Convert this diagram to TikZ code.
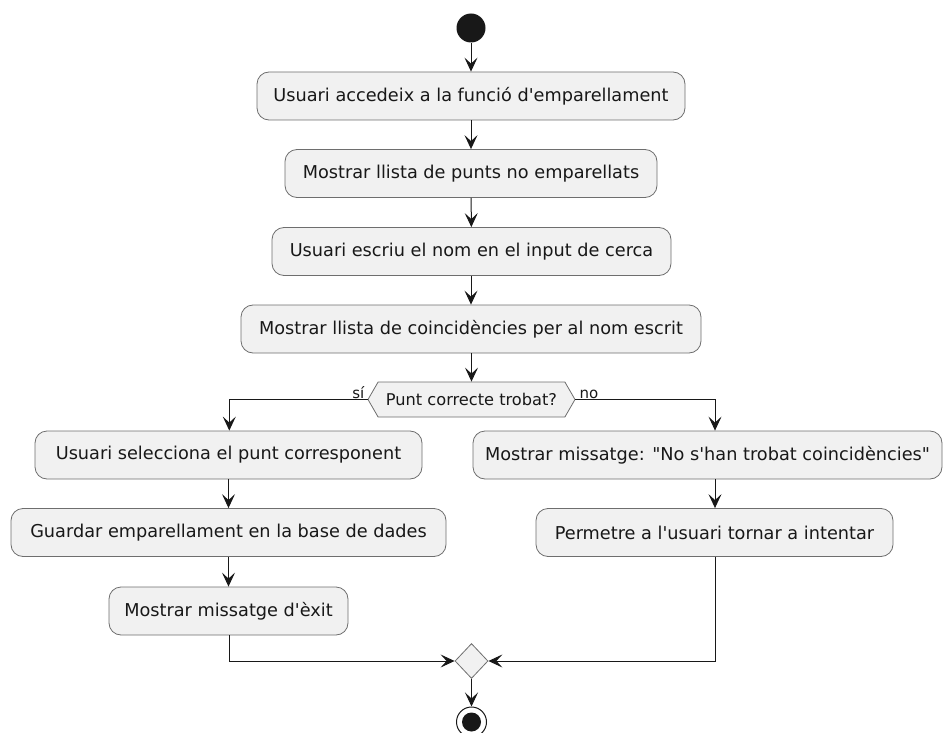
\documentclass[tikz,border=0pt]{standalone}
\usepackage{fontspec}
\setmainfont{DejaVu Sans}
\usetikzlibrary{arrows.meta,shapes.geometric,shapes.symbols}
\definecolor{boxfill}{HTML}{F1F1F1}
\definecolor{ink}{HTML}{181818}
\definecolor{edge}{HTML}{6E6E6E}
\newcommand{\sq}{\textquotesingle}
\newcommand{\dq}{\textquotedbl}
\tikzset{
  act/.style={draw=edge, line width=0.8pt, fill=boxfill, rounded corners=12pt,
    minimum height=48pt, inner xsep=12pt, font=\fontsize{17.7}{21}\selectfont, text=ink},
  flow/.style={draw=ink, line width=1pt, -{Stealth[length=14pt,width=13pt,inset=6pt]}},
  guard/.style={font=\fontsize{15}{18}\selectfont, text=ink},
}
\begin{document}
\begin{tikzpicture}[x=1pt,y=-1pt]
\useasboundingbox (0,0) rectangle (943,733);
% start node
\node[circle, fill=ink, minimum size=29pt, inner sep=0pt] (start) at (471,28) {};
% sequential actions
\node[act, minimum width=428pt] (a1) at (471,96) {Usuari accedeix a la funció d\sq emparellament};
\node[act, minimum width=372pt] (a2) at (471,173.5) {Mostrar llista de punts no emparellats};
\node[act, minimum width=399pt] (a3) at (471.5,251.5) {Usuari escriu el nom en el input de cerca};
\node[act, minimum width=460pt] (a4) at (471,329) {Mostrar llista de coincidències per al nom escrit};
% decision
\node[signal, signal to=west and east, signal pointer angle=120, draw=edge, line width=0.8pt,
  fill=boxfill, minimum width=207pt, minimum height=35pt, inner sep=2pt,
  font=\fontsize{16.2}{19}\selectfont, text=ink] (dec) at (471.5,399.5) {Punt correcte trobat?};
% left branch
\node[act, minimum width=387pt] (b1) at (228.5,455) {Usuari selecciona el punt corresponent};
\node[act, minimum width=435pt] (b2) at (228.5,532.5) {Guardar emparellament en la base de dades};
\node[act, minimum width=239pt] (b3) at (228.5,611) {Mostrar missatge d\sq èxit};
% right branch
\node[act, minimum width=467pt] (c1) at (707.5,455) {Mostrar missatge: \dq No s\sq han trobat coincidències\dq};
\node[act, minimum width=357pt] (c2) at (714.5,532.5) {Permetre a l\sq usuari tornar a intentar};
% merge and end
\node[diamond, draw=edge, line width=0.8pt, fill=boxfill, minimum width=33pt, minimum height=35pt,
  inner sep=0pt] (merge) at (471.5,661) {};
\node[circle, draw=ink, line width=1pt, fill=white, minimum size=30pt, inner sep=0pt] (stop) at (471.5,722) {};
\node[circle, fill=ink, minimum size=19pt, inner sep=0pt] (stopdot) at (stop.center) {};
% routing corners
\coordinate (lx) at (229.3,399.5);
\coordinate (rx) at (715,399.5);
\coordinate (lb) at (229.3,661);
\coordinate (rb) at (715,661);
% connectors
\draw[flow] (start) -- (a1);
\draw[flow] (a1) -- (a2);
\draw[flow] (a2) -- (a3);
\draw[flow] (a3.south -| a2) -- (a4);
\draw[flow] (a4.south -| dec.north) -- (dec.north);
\draw[flow] (dec.west) -- (lx) -- (lx |- b1.north);
\draw[flow] (dec.east) -- (rx) -- (rx |- c1.north);
\draw[flow] (b1) -- (b2);
\draw[flow] (b2) -- (b3);
\draw[flow] (c1.south -| rx) -- (rx |- c2.north);
\draw[flow] (b3.south -| lb) -- (lb) -- (merge.west);
\draw[flow] (c2.south -| rb) -- (rb) -- (merge.east);
\draw[flow] (merge) -- (stop);
% guard labels
\node[guard, anchor=south east, inner sep=1pt] (yes) at ([xshift=-2pt]dec.west) {sí};
\node[guard, anchor=south west, inner sep=1pt] (no) at ([xshift=3pt]dec.east) {no};
\end{tikzpicture}
\end{document}
